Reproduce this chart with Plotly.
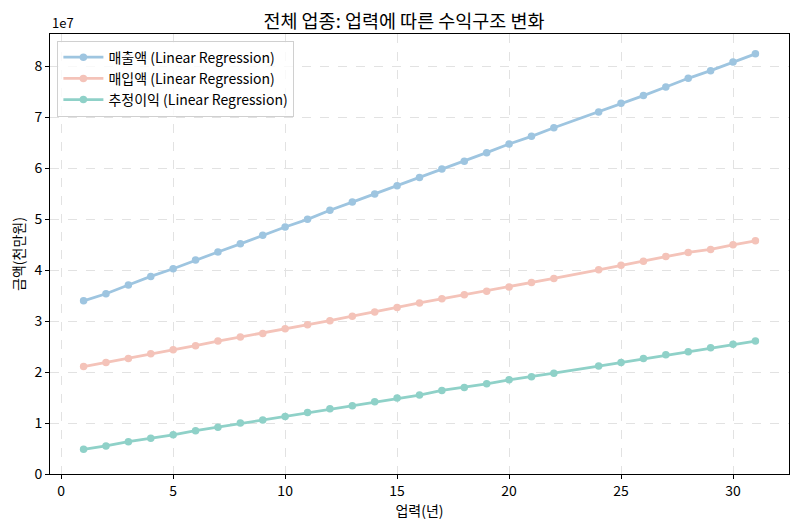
import plotly.graph_objects as go

years = [1, 2, 3, 4, 5, 6, 7, 8, 9, 10, 11, 12, 13, 14, 15, 16,
         17, 18, 19, 20, 21, 22, 24, 25, 26, 27, 28, 29, 30, 31]

# 금액 (원 단위, 1e7 스케일로 읽음)
sales = [3.40, 3.54, 3.71, 3.88, 4.03, 4.20, 4.36, 4.52, 4.69, 4.85, 5.00, 5.18, 5.34, 5.50, 5.66, 5.82,
         5.99, 6.14, 6.31, 6.48, 6.63, 6.80, 7.11, 7.28, 7.43, 7.60, 7.77, 7.92, 8.09, 8.25]
purchase = [2.11, 2.19, 2.27, 2.36, 2.44, 2.52, 2.61, 2.69, 2.76, 2.85, 2.93, 3.01, 3.10, 3.18, 3.27, 3.36,
            3.44, 3.52, 3.59, 3.67, 3.76, 3.84, 4.01, 4.10, 4.18, 4.27, 4.35, 4.41, 4.50, 4.58]
profit = [0.485, 0.55, 0.635, 0.70, 0.77, 0.85, 0.92, 1.00, 1.06, 1.13, 1.21, 1.28, 1.34, 1.42, 1.49, 1.55,
          1.64, 1.70, 1.77, 1.85, 1.91, 1.98, 2.12, 2.19, 2.27, 2.34, 2.40, 2.48, 2.55, 2.61]
sales = [v * 1e7 for v in sales]
purchase = [v * 1e7 for v in purchase]
profit = [v * 1e7 for v in profit]

series = [
    ("매출액 (Linear Regression)", sales, "#9ec5e0"),
    ("매입액 (Linear Regression)", purchase, "#f4c3b9"),
    ("추정이익 (Linear Regression)", profit, "#8fd1c8"),
]

font = "Noto Sans CJK KR"

fig = go.Figure()
for name, vals, col in series:
    fig.add_trace(go.Scatter(x=years, y=vals, name=name, mode="lines+markers",
                             line=dict(color=col, width=2.8),
                             marker=dict(color=col, size=7.5)))

ytick = [i * 1e7 for i in range(9)]

# 페이지 기본 여백(8px)을 감안한 크기
fig.update_layout(
    width=792, height=522,
    margin=dict(l=42, r=11, t=26, b=56),
    paper_bgcolor="white", plot_bgcolor="white",
    font=dict(family=font, size=14, color="black"),
    title=dict(text="전체 업종: 업력에 따른 수익구조 변화", x=0.5, xanchor="center",
               y=0.974, yanchor="middle", font=dict(size=18.5)),
    showlegend=True,
    legend=dict(x=0.01, y=0.985, xanchor="left", yanchor="top",
                bgcolor="rgba(255,255,255,0.8)", bordercolor="#d0d0d0", borderwidth=1,
                font=dict(size=14), itemwidth=40),
    xaxis=dict(range=[-0.5, 32.5], tickvals=[0, 5, 10, 15, 20, 25, 30], automargin=False,
               showgrid=True, gridcolor="#e2e2e2", griddash="dash", gridwidth=1,
               showline=True, linecolor="black", linewidth=1, mirror=True,
               ticks="outside", ticklen=4, tickcolor="black", zeroline=False,
               title=dict(text="업력(년)", standoff=2, font=dict(size=14))),
    yaxis=dict(range=[0, 8.64e7], tickvals=ytick, ticktext=[str(i) for i in range(9)],
               automargin=False,
               showgrid=True, gridcolor="#e2e2e2", griddash="dash", gridwidth=1,
               showline=True, linecolor="black", linewidth=1, mirror=True,
               ticks="outside", ticklen=4, tickcolor="black", zeroline=False,
               title=dict(text="금액(천만원)", standoff=7, font=dict(size=14))),
)
fig.add_annotation(text="1e7", xref="paper", yref="paper", x=0, y=1.0,
                   xanchor="left", yanchor="bottom", showarrow=False,
                   font=dict(size=13), yshift=0)

fig.write_html("out.html")
